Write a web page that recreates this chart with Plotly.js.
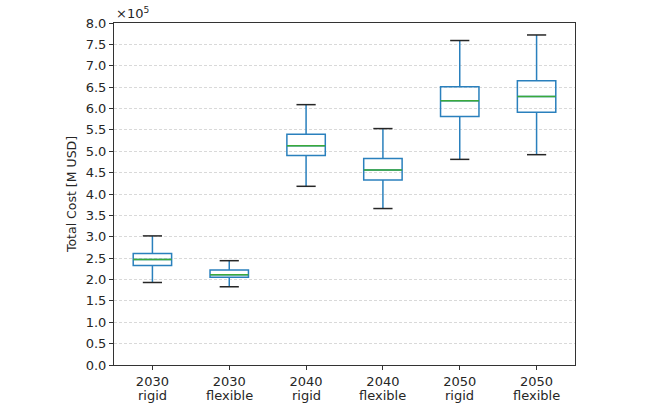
<!DOCTYPE html>
<html>
<head>
<meta charset="utf-8">
<script src="https://cdn.plot.ly/plotly-3.0.1.min.js"></script>
<style>
  html, body { margin: 0; padding: 0; background: #fff; }
  #chart { width: 650px; height: 416px; }
</style>
</head>
<body>
<div id="chart"></div>
<script>
// Scenario labels and box statistics (M USD)
const scenarioYears = ['2030', '2030', '2040', '2040', '2050', '2050'];
const scenarioModes = ['rigid', 'flexible', 'rigid', 'flexible', 'rigid', 'flexible'];
const lowerWhisker = [193000, 183000, 418000, 366000, 481000, 492000];
const q1Values     = [233000, 205000, 490000, 433000, 581000, 591000];
const medianValues = [247000, 211000, 513000, 456000, 618000, 628000];
const q3Values     = [261000, 222000, 540000, 483000, 651000, 665000];
const upperWhisker = [302000, 244000, 609000, 553000, 759000, 772000];

const yTickValues = [0, 50000, 100000, 150000, 200000, 250000, 300000, 350000, 400000,
  450000, 500000, 550000, 600000, 650000, 700000, 750000, 800000];
const yTickLabels = ['0.0', '0.5', '1.0', '1.5', '2.0', '2.5', '3.0', '3.5', '4.0',
  '4.5', '5.0', '5.5', '6.0', '6.5', '7.0', '7.5', '8.0'];

const positions = scenarioYears.map((_, i) => i + 1);
const boxHalf = 0.25;
const capHalf = 0.125;

// helper: horizontal segments at each position, separated by nulls
function segments(values, half) {
  const xs = [], ys = [];
  values.forEach((v, i) => {
    xs.push(positions[i] - half, positions[i] + half, null);
    ys.push(v, v, null);
  });
  return { x: xs, y: ys };
}

const medians = segments(medianValues, boxHalf);
const lowCaps = segments(lowerWhisker, capHalf);
const highCaps = segments(upperWhisker, capHalf);

const data = [
  {
    type: 'box',
    x: positions,
    q1: q1Values,
    median: medianValues,
    q3: q3Values,
    lowerfence: lowerWhisker,
    upperfence: upperWhisker,
    width: 0.5,
    whiskerwidth: 0,
    boxpoints: false,
    fillcolor: 'rgba(0,0,0,0)',
    line: { color: '#2a80bd', width: 1.5 },
    hoverinfo: 'skip',
    showlegend: false
  },
  {
    type: 'scatter', mode: 'lines',
    x: medians.x, y: medians.y,
    line: { color: '#3aaa3a', width: 1.5 },
    hoverinfo: 'skip', showlegend: false
  },
  {
    type: 'scatter', mode: 'lines',
    x: lowCaps.x.concat(highCaps.x), y: lowCaps.y.concat(highCaps.y),
    line: { color: '#262626', width: 1.5 },
    hoverinfo: 'skip', showlegend: false
  }
];

// second line of each x tick label (tighter spacing than a <br>)
const modeLabels = scenarioModes.map((m, i) => ({
  text: m,
  xref: 'x', yref: 'paper',
  x: positions[i], y: 0,
  xanchor: 'center', yanchor: 'top',
  yshift: -21,
  showarrow: false,
  font: { size: 13 }
}));

const layout = {
  width: 650,
  height: 416,
  margin: { l: 114, r: 75, t: 23, b: 51 },
  paper_bgcolor: '#fff',
  plot_bgcolor: '#fff',
  font: { family: 'DejaVu Sans', size: 13, color: '#262626' },
  showlegend: false,
  xaxis: {
    range: [0.5, 6.5],
    tickvals: positions,
    ticktext: scenarioYears,
    showgrid: false,
    zeroline: false,
    showline: true,
    mirror: true,
    linecolor: '#333',
    linewidth: 1,
    ticks: 'outside',
    ticklen: 4,
    tickcolor: '#333',
    tickfont: { size: 13 }
  },
  yaxis: {
    range: [0, 800000],
    tickvals: yTickValues,
    ticktext: yTickLabels,
    showgrid: true,
    gridcolor: '#cfcfcf',
    griddash: '3px,2px',
    gridwidth: 0.8,
    zeroline: false,
    showline: true,
    mirror: true,
    linecolor: '#333',
    linewidth: 1,
    ticks: 'outside',
    ticklen: 4,
    tickcolor: '#333',
    tickfont: { size: 13 },
    title: { text: 'Total Cost [M USD]', font: { size: 12.5 }, standoff: 6 }
  },
  annotations: [
    {
      text: '×10<sup>5</sup>',
      xref: 'paper', yref: 'paper',
      x: 0, y: 1,
      xanchor: 'left', yanchor: 'bottom',
      showarrow: false,
      font: { size: 13 }
    }
  ].concat(modeLabels)
};

Plotly.newPlot('chart', data, layout, { staticPlot: true });
</script>
</body>
</html>
